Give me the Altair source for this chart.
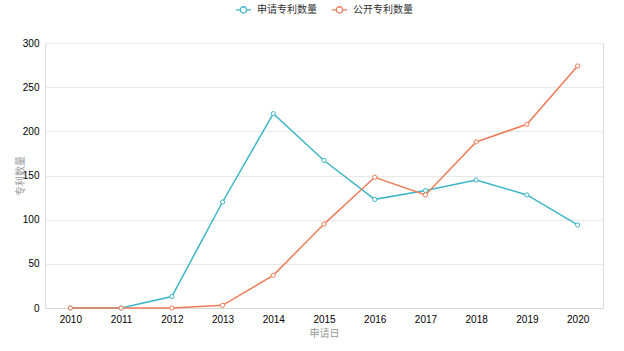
import altair as alt
import pandas as pd

years = [str(y) for y in range(2010, 2021)]
apply_counts = [0, 0, 13, 120, 220, 167, 123, 133, 145, 128, 94]
publish_counts = [0, 0, 0, 3, 37, 95, 148, 128, 188, 208, 274]
series = ["申请专利数量", "公开专利数量"]
colors = ["#3db5c8", "#ef7b57"]
y_ticks = [0, 50, 100, 150, 200, 250, 300]

rows = []
for name, vals in zip(series, [apply_counts, publish_counts]):
    for yr, v in zip(years, vals):
        rows.append({"申请日": yr, "专利数量": v, "系列": name})
df = pd.DataFrame(rows)

font = "Liberation Sans, Noto Sans CJK SC, sans-serif"
legend_symbol = ("M-1,0L-0.42,0M0.42,0L1,0M-0.42,0"
                 "A0.42,0.42 0 1,1 0.42,0A0.42,0.42 0 1,1 -0.42,0Z")

base = alt.Chart(df).encode(
    x=alt.X("申请日:O",
            scale=alt.Scale(type="point", padding=0.5),
            axis=alt.Axis(title="申请日", labelAngle=0, ticks=False, grid=False,
                          domainColor="#d6d6d6", domainWidth=1,
                          labelPadding=6, labelFontSize=10, labelColor="#000",
                          titleColor="#999", titleFontSize=10, titleFontWeight="normal",
                          titleY=25, titleBaseline="middle")),
    y=alt.Y("专利数量:Q",
            scale=alt.Scale(domain=[0, 300], nice=False),
            axis=alt.Axis(title="专利数量", values=y_ticks, grid=True, gridColor="#e8e8e8",
                          domain=False, ticks=False, labelPadding=6, labelFontSize=10,
                          labelColor="#000", titleColor="#999", titleFontSize=10,
                          titleFontWeight="normal", titleX=-25, titleY=132.5,
                          titleAngle=-90, titleAlign="center", titleBaseline="middle")),
    color=alt.Color("系列:N", sort=series,
                    scale=alt.Scale(domain=series, range=colors),
                    legend=alt.Legend(title=None, orient="none", direction="horizontal",
                                      legendX=190, legendY=-42, symbolType=legend_symbol,
                                      symbolSize=225, symbolStrokeWidth=1.3,
                                      symbolFillColor="white", labelFontSize=10,
                                      labelColor="#333", columnPadding=12, labelOffset=5)),
)

line = base.mark_line(strokeWidth=1.5)
pts = base.mark_point(shape="circle", filled=False, fill="white", fillOpacity=1,
                      size=18, strokeWidth=1, opacity=1)

chart = (line + pts).properties(
    width=558, height=265,
    autosize=alt.AutoSizeParams(type="none"),
    padding={"left": 45, "top": 43, "right": 21, "bottom": 43},
    background="white",
).configure_view(stroke=None, strokeWidth=0).configure(font=font)

chart.save("out.html", embed_options={"renderer": "svg", "actions": False})
